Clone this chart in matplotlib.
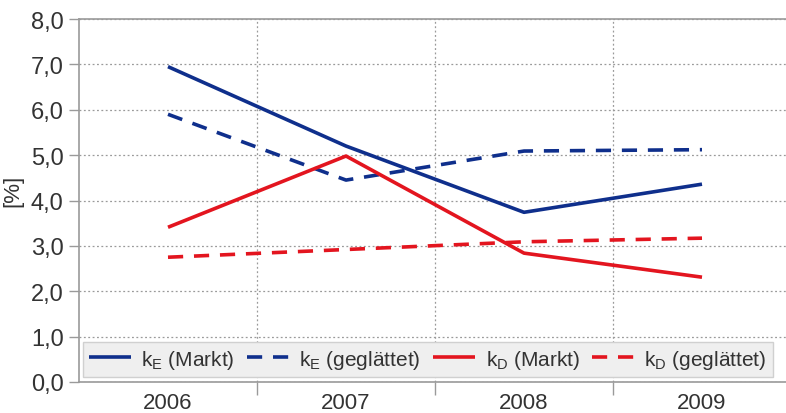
import matplotlib
matplotlib.use("Agg")
import matplotlib.pyplot as plt
from matplotlib.ticker import FuncFormatter, FixedLocator

years = ["2006", "2007", "2008", "2009"]
ke_markt = [6.95, 5.20, 3.74, 4.36]
ke_geglaettet = [5.90, 4.45, 5.09, 5.12]
kd_markt = [3.41, 4.98, 2.84, 2.31]
kd_geglaettet = [2.75, 2.92, 3.09, 3.17]

BLUE = "#0f2f8c"
RED = "#e3151f"
GRID = "#9a9a9a"
TEXT = "#333333"

plt.rcParams["font.family"] = ["Liberation Sans", "DejaVu Sans"]
plt.rcParams["mathtext.fontset"] = "custom"
plt.rcParams["mathtext.rm"] = "Liberation Sans"

fig = plt.figure(figsize=(7.86, 4.14), dpi=100)
ax = fig.add_axes([79 / 786, 31 / 414, 712 / 786, 363 / 414])

x = list(range(len(years)))
lw = 2.6
dash = (4.2, 3.0)
ax.plot(x, ke_markt, color=BLUE, lw=lw, label=r"k$_{\mathrm{E}}$ (Markt)", solid_capstyle="butt")
ax.plot(x, ke_geglaettet, color=BLUE, lw=lw, dashes=dash, label=r"k$_{\mathrm{E}}$ (geglättet)")
ax.plot(x, kd_markt, color=RED, lw=lw, label=r"k$_{\mathrm{D}}$ (Markt)", solid_capstyle="butt")
ax.plot(x, kd_geglaettet, color=RED, lw=lw, dashes=dash, label=r"k$_{\mathrm{D}}$ (geglättet)")

ax.set_xlim(-0.5, 3.5)
ax.set_ylim(0, 8)
ax.yaxis.set_major_locator(FixedLocator([i for i in range(9)]))
ax.yaxis.set_major_formatter(FuncFormatter(lambda v, p: f"{v:.1f}".replace(".", ",")))

# category labels at centres, grid/ticks at boundaries
ax.set_xticks(x)
ax.set_xticklabels(years)
ax.set_xticks([0.5, 1.5, 2.5], minor=True)
ax.tick_params(axis="x", which="major", length=0, pad=7, labelsize=16, labelcolor=TEXT)
ax.tick_params(axis="x", which="minor", length=9, width=1, color=GRID, direction="out")
ax.tick_params(axis="y", length=7, width=1, color=GRID, labelsize=17, labelcolor=TEXT, pad=4)

ax.grid(True, axis="y", which="major", linestyle=(0, (1.5, 2)), color=GRID, lw=0.9)
ax.grid(True, axis="x", which="minor", linestyle=(0, (1.5, 2)), color=GRID, lw=0.9)
ax.grid(False, axis="x", which="major")
ax.set_axisbelow(True)

for side in ("left", "bottom", "top"):
    ax.spines[side].set_color(GRID)
    ax.spines[side].set_linewidth(1.2)
ax.spines["right"].set_visible(False)

ax.set_ylabel("[%]", fontsize=16, color=TEXT)
ax.yaxis.set_label_coords(-0.078, 0.53)

leg = ax.legend(loc="lower left", ncol=4, mode="expand", frameon=True, fancybox=False,
                shadow=False, fontsize=15, handlelength=2.0, handletextpad=0.5,
                borderaxespad=0, borderpad=0.3, columnspacing=1.0, labelcolor=TEXT)
leg.set_bbox_to_anchor((4 / 712, 5 / 363, 690 / 712, 35 / 363), transform=ax.transAxes)
frame = leg.get_frame()
frame.set_facecolor("#efefef")
frame.set_edgecolor("#d0d0d0")
frame.set_linewidth(1.0)
frame.set_alpha(1)

fig.savefig("out.png", dpi=100)
